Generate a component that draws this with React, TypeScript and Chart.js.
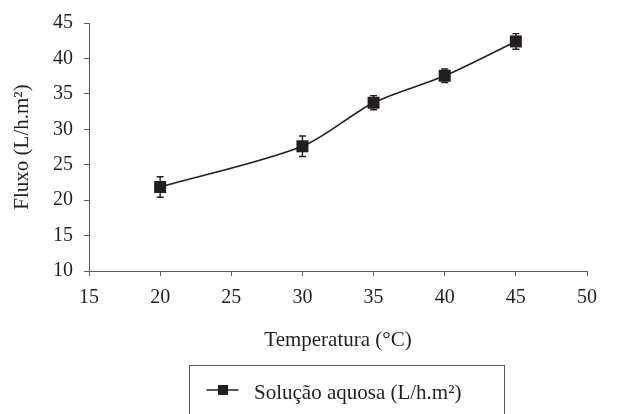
import React, { useEffect, useRef } from 'react';
import { Chart, registerables } from 'chart.js';

Chart.register(...registerables);

// ---- data ----
const temperatures = [20, 30, 35, 40, 45];
const fluxValues = [21.85, 27.6, 33.75, 37.55, 42.4];
const fluxErrors = [1.45, 1.45, 1.0, 0.95, 1.1];
const seriesLabel = 'Solução aquosa (L/h.m²)';
const xTitle = 'Temperatura (°C)';
const yTitle = 'Fluxo (L/h.m²)';
const xTickValues = [15, 20, 25, 30, 35, 40, 45, 50];
const yTickValues = [10, 15, 20, 25, 30, 35, 40, 45];

const INK = '#231f20';
const AXIS = '#5a5a5c';
const FONT = "'Liberation Serif', 'Times New Roman', serif";

const errorBarPlugin = {
  id: 'errorBars',
  beforeDatasetsDraw(chart: any) {
    const ctx = chart.ctx;
    const xs = chart.scales.x;
    const ys = chart.scales.y;
    ctx.save();
    ctx.strokeStyle = INK;
    ctx.lineWidth = 1.4;
    temperatures.forEach((t, i) => {
      const px = xs.getPixelForValue(t);
      const top = ys.getPixelForValue(fluxValues[i] + fluxErrors[i]);
      const bot = ys.getPixelForValue(fluxValues[i] - fluxErrors[i]);
      ctx.beginPath();
      ctx.moveTo(px, top);
      ctx.lineTo(px, bot);
      ctx.moveTo(px - 3.5, top);
      ctx.lineTo(px + 3.5, top);
      ctx.moveTo(px - 3.5, bot);
      ctx.lineTo(px + 3.5, bot);
      ctx.stroke();
    });
    ctx.restore();
  },
};

const boxLegendPlugin = {
  id: 'boxLegend',
  afterDraw(chart: any) {
    const ctx = chart.ctx;
    const ds = chart.data.datasets[0];
    ctx.save();
    ctx.strokeStyle = AXIS;
    ctx.lineWidth = 1;
    ctx.strokeRect(189.5, 365.5, 315, 80);
    ctx.strokeStyle = INK;
    ctx.lineWidth = 1.5;
    ctx.beginPath();
    ctx.moveTo(206.5, 390);
    ctx.lineTo(238.5, 390);
    ctx.stroke();
    ctx.fillStyle = INK;
    ctx.fillRect(218, 385, 10, 10);
    ctx.font = `21px ${FONT}`;
    ctx.textBaseline = 'alphabetic';
    ctx.textAlign = 'left';
    ctx.fillText(ds.label, 254, 399);
    ctx.restore();
  },
};

export default function App() {
  const ref = useRef<HTMLCanvasElement | null>(null);

  useEffect(() => {
    if (!ref.current) return;
    const chart = new Chart(ref.current, {
      type: 'line',
      data: {
        datasets: [
          {
            label: seriesLabel,
            data: temperatures.map((t, i) => ({ x: t, y: fluxValues[i] })),
            borderColor: INK,
            backgroundColor: INK,
            borderWidth: 1.6,
            tension: 0.3,
            pointStyle: 'rect',
            pointRadius: 8.5,
            pointBorderWidth: 0,
            pointBackgroundColor: INK,
            fill: false,
          },
        ],
      },
      options: {
        responsive: false,
        animation: false,
        layout: { padding: { top: 20, right: 36, left: 0, bottom: 0 } },
        plugins: {
          legend: { display: false },
          tooltip: { enabled: false },
        },
        scales: {
          x: {
            type: 'linear',
            min: xTickValues[0],
            max: xTickValues[xTickValues.length - 1],
            afterBuildTicks: (s: any) => {
              s.ticks = xTickValues.map((v) => ({ value: v }));
            },
            afterFit: (s: any) => {
              s.height = 143;
            },
            ticks: {
              color: INK,
              font: { family: FONT, size: 20 },
              padding: 10,
              maxRotation: 0,
            },
            grid: {
              drawOnChartArea: false,
              drawTicks: true,
              tickLength: 5,
              color: AXIS,
            },
            border: { display: true, color: AXIS, width: 1 },
            title: {
              display: true,
              text: xTitle,
              color: INK,
              font: { family: FONT, size: 21 },
              padding: { top: 0, bottom: 61 },
            },
          },
          y: {
            type: 'linear',
            min: yTickValues[0],
            max: yTickValues[yTickValues.length - 1],
            afterBuildTicks: (s: any) => {
              s.ticks = yTickValues.map((v) => ({ value: v }));
            },
            afterFit: (s: any) => {
              s.width = 89;
            },
            ticks: {
              color: INK,
              font: { family: FONT, size: 20 },
              padding: 11,
            },
            grid: {
              drawOnChartArea: false,
              drawTicks: true,
              tickLength: 5,
              color: AXIS,
            },
            border: { display: true, color: AXIS, width: 1 },
            title: {
              display: true,
              text: yTitle,
              color: INK,
              font: { family: FONT, size: 21 },
              padding: { top: 10, bottom: 0 },
            },
          },
        },
      },
      plugins: [errorBarPlugin, boxLegendPlugin],
    } as any);
    return () => chart.destroy();
  }, []);

  return (
    <div style={{ position: 'absolute', left: 0, top: 0, width: 623, height: 414, background: '#fff' }}>
      <canvas ref={ref} width={623} height={414} style={{ width: 623, height: 414 }} />
    </div>
  );
}
